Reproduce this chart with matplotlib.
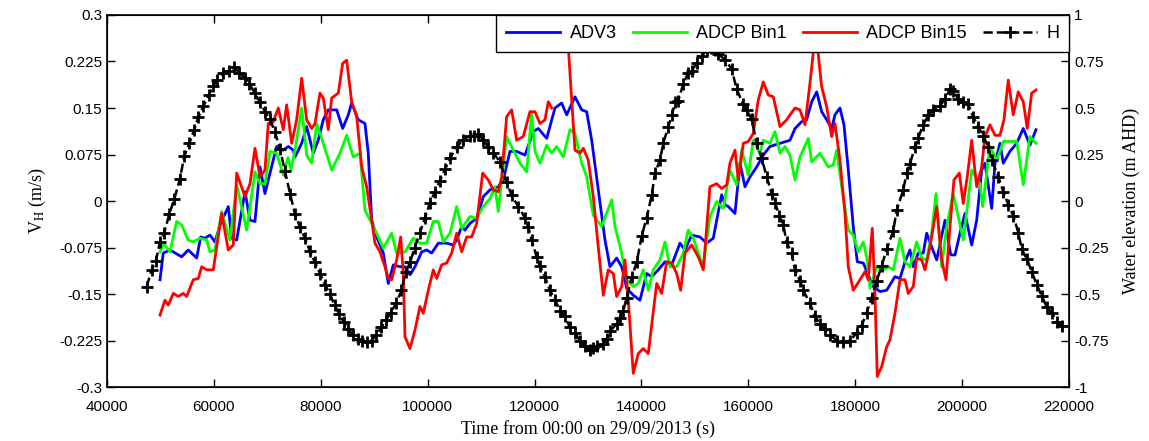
import numpy as np
import matplotlib
matplotlib.use("Agg")
import matplotlib.pyplot as plt
from matplotlib.ticker import FuncFormatter

plt.rcParams['axes.unicode_minus'] = False
plt.rcParams['mathtext.fontset'] = 'stix'

# ADV3 velocity (m/s)
t_adv3 = [49920, 50530, 51790, 53980, 55210, 56780, 57530, 58340, 59270, 60210,
          61140, 62700, 63330, 64270, 65820, 66760, 67690, 68630, 69560, 70500,
          71750, 72990, 73920, 74860, 75180, 76430, 77360, 78600, 79530, 80470,
          81410, 82980, 84100, 85150, 85780, 87020, 88270, 88890, 89530, 90460,
          91700, 92630, 93570, 94820, 95760, 96690, 97630, 98880, 99820, 100750,
          101990, 103560, 104790, 105430, 106370, 106980, 107920, 109170, 110410, 111660,
          113210, 114150, 115400, 116650, 118210, 119760, 120700, 122270, 123820, 125070,
          126010, 127560, 128820, 129750, 130690, 131920, 133180, 134110, 135360, 136300,
          137240, 138470, 139720, 140980, 141910, 143150, 144400, 145660, 147210, 148140,
          149400, 150950, 152200, 153440, 154080, 155010, 155630, 156250, 157500, 158430,
          159370, 160310, 161560, 162790, 164050, 165920, 167790, 168730, 169980, 170910,
          171850, 172790, 173720, 174660, 175590, 176210, 177140, 177890, 178700, 179630,
          180380, 181500, 182440, 183370, 184630, 185880, 187430, 188370, 189310, 190240,
          190860, 191790, 192730, 193370, 194300, 195240, 196790, 197860, 198660, 199600,
          200530, 201790, 202720, 203660, 204270, 205530, 206150, 207080, 207700, 208950,
          210200, 211440, 212690, 213820]
v_adv3 = [-0.127, -0.084, -0.079, -0.090, -0.079, -0.092, -0.058, -0.060, -0.055, -0.066,
          -0.039, -0.009, -0.060, -0.063, 0.015, -0.031, -0.033, 0.055, 0.012, 0.045,
          0.088, 0.082, 0.088, 0.082, 0.071, 0.093, 0.120, 0.077, 0.098, 0.131,
          0.147, 0.147, 0.117, 0.139, 0.158, 0.131, 0.125, 0.077, -0.031, -0.058,
          -0.084, -0.133, -0.103, -0.106, -0.106, -0.119, -0.106, -0.082, -0.079, -0.084,
          -0.068, -0.068, -0.071, -0.063, -0.041, -0.047, -0.036, -0.028, 0.007, 0.018,
          0.023, 0.034, 0.080, 0.080, 0.074, 0.112, 0.117, 0.101, 0.150, 0.158,
          0.139, 0.168, 0.147, 0.144, 0.098, 0.018, -0.063, -0.106, -0.092, -0.106,
          -0.141, -0.152, -0.160, -0.117, -0.122, -0.111, -0.098, -0.103, -0.068, -0.079,
          -0.055, -0.058, -0.068, -0.060, -0.031, 0.010, -0.006, -0.009, -0.020, 0.061,
          0.023, 0.039, 0.055, 0.074, 0.088, 0.093, 0.098, 0.117, 0.128, 0.131,
          0.160, 0.176, 0.144, 0.131, 0.117, 0.139, 0.150, 0.123, 0.050, -0.041,
          -0.098, -0.100, -0.119, -0.138, -0.146, -0.144, -0.122, -0.125, -0.098, -0.079,
          -0.106, -0.084, -0.084, -0.052, -0.074, -0.095, -0.031, -0.087, -0.087, -0.052,
          -0.020, -0.071, -0.031, 0.050, 0.061, -0.012, 0.061, 0.093, 0.061, 0.080,
          0.093, 0.117, 0.090, 0.115]

# ADCP Bin1 velocity (m/s)
t_bin1 = [49920, 50530, 51790, 53040, 53980, 55210, 56150, 57400, 58650, 59270,
          60210, 61460, 63010, 64270, 66140, 67690, 68630, 69560, 70500, 71750,
          72990, 73860, 74420, 75180, 76430, 77360, 78300, 79240, 80470, 82040,
          83590, 84850, 86080, 87340, 88270, 89530, 90760, 91700, 93270, 94200,
          95760, 97310, 98560, 99820, 101050, 101990, 102920, 104180, 105430, 106370,
          107920, 109170, 110410, 111660, 112600, 113210, 114780, 116020, 117270, 118530,
          119460, 120080, 121010, 122270, 123200, 124140, 125370, 126630, 127560, 128820,
          129750, 130990, 132560, 134430, 135050, 136300, 137240, 138470, 139410, 140340,
          141280, 142210, 143470, 144400, 145340, 146590, 147830, 148760, 149700, 150630,
          151570, 152820, 154080, 155310, 156560, 157820, 158750, 159990, 160920, 162180,
          162790, 164050, 164980, 165920, 166850, 167790, 168730, 169660, 171210, 171850,
          173400, 174960, 175890, 176530, 177460, 178700, 179630, 180570, 181500, 182140,
          182760, 184010, 185250, 186180, 187120, 188370, 189310, 190240, 191490, 192430,
          193370, 194300, 195110, 196170, 197110, 198340, 200210, 201790, 203340, 203840,
          205210, 206460, 207700, 210200, 211440, 212690, 213820]
v_bin1 = [-0.082, -0.068, -0.082, -0.033, -0.039, -0.063, -0.066, -0.060, -0.063, -0.082,
          -0.079, -0.017, -0.063, 0.026, -0.047, 0.047, 0.028, 0.028, 0.080, 0.077,
          0.042, 0.070, 0.050, 0.082, 0.150, 0.074, 0.061, 0.125, 0.093, 0.050,
          0.077, 0.106, 0.071, 0.077, -0.015, -0.036, -0.058, -0.076, -0.052, -0.084,
          -0.082, -0.060, -0.068, -0.068, -0.033, -0.033, -0.066, -0.052, -0.009, -0.044,
          -0.025, -0.028, -0.009, 0.004, 0.023, -0.017, 0.104, 0.082, 0.061, 0.047,
          0.142, 0.080, 0.061, 0.090, 0.077, 0.088, 0.071, 0.115, 0.109, 0.061,
          0.039, -0.023, -0.041, 0.002, -0.041, -0.084, -0.127, -0.138, -0.133, -0.111,
          -0.144, -0.111, -0.095, -0.066, -0.106, -0.106, -0.084, -0.047, -0.060, -0.084,
          -0.106, -0.025, -0.001, -0.012, 0.050, 0.026, 0.082, 0.042, 0.098, 0.077,
          0.098, 0.093, 0.112, 0.077, 0.088, 0.074, 0.034, 0.071, 0.101, 0.063,
          0.077, 0.055, 0.058, 0.082, 0.023, -0.047, -0.055, -0.082, -0.066, -0.090,
          -0.141, -0.106, -0.111, -0.106, -0.111, -0.060, -0.098, -0.106, -0.066, -0.092,
          -0.095, -0.052, 0.012, -0.106, -0.041, 0.012, -0.063, 0.050, 0.028, -0.009,
          0.088, 0.066, 0.096, 0.096, 0.026, 0.104, 0.093]

# ADCP Bin15 velocity (m/s), gap where the record drops out
t_bin15 = [49920, 50850, 51470, 52410, 53340, 54280, 54910, 56150, 57080, 57720,
           58650, 59890, 61460, 62700, 63630, 64270, 65820, 66760, 67690, 68630,
           69560, 70180, 71120, 72050, 72990, 73620, 74560, 75490, 76430, 77360,
           78300, 78920, 79850, 80470, 81410, 82040, 83280, 84100, 84850, 85780,
           86720, 87660, 88590, 89530, 90140, 91080, 92010, 92630, 93270, 94200,
           94950, 95440, 95760, 96690, 97630, 98560, 99180, 100120, 101050, 101690,
           102620, 103560, 104490, 105430, 106370, 107300, 108240, 109170, 110290, 111340,
           112280, 113210, 113850, 114780, 115720, 116650, 117890, 119140, 120080, 121010,
           121950, 122570, 123200, 124400, 125700, 127560, 128500, 129120, 130050, 130990,
           131920, 132860, 133790, 134730, 135360, 136300, 136920, 137540, 138470, 139410,
           140340, 141280, 142850, 143780, 144720, 145660, 146590, 147340, 148140, 149400,
           150630, 151570, 152820, 154080, 155010, 155950, 156560, 157500, 158120, 159050,
           159990, 160920, 161860, 162790, 163730, 164670, 165920, 167170, 168730, 169660,
           170600, 171530, 172600, 173720, 174660, 175590, 176210, 177140, 178080, 178700,
           179630, 180890, 181820, 182440, 183190, 183690, 184120, 184950, 185880, 186500,
           187430, 188370, 189310, 189920, 190860, 191490, 192430, 193050, 193980, 195240,
           196170, 196980, 197730, 198470, 199470, 200210, 200960, 201790, 202720, 203660,
           204270, 205210, 206150, 207080, 207830, 208630, 209570, 210500, 211440, 212190,
           213010, 213820]
v_bin15 = [-0.184, -0.160, -0.168, -0.149, -0.154, -0.149, -0.154, -0.127, -0.125, -0.106,
           -0.111, -0.111, -0.020, -0.079, -0.071, 0.045, 0.007, 0.028, 0.085, 0.039,
           0.050, 0.125, 0.128, 0.150, 0.115, 0.155, 0.093, 0.131, 0.198, 0.131,
           0.117, 0.125, 0.174, 0.166, 0.115, 0.166, 0.174, 0.222, 0.227, 0.160,
           0.136, 0.055, 0.023, -0.031, -0.068, -0.082, -0.106, -0.125, -0.127, -0.095,
           -0.058, -0.117, -0.219, -0.238, -0.208, -0.170, -0.181, -0.144, -0.111, -0.125,
           -0.103, -0.100, -0.084, -0.052, -0.082, -0.058, -0.058, -0.036, 0.045, 0.034,
           0.018, 0.015, 0.039, 0.136, 0.147, 0.098, 0.104, 0.144, 0.144, 0.125,
           0.131, 0.160, 0.150, np.nan, 0.330, 0.082, 0.077, 0.085, 0.066, 0.007,
           -0.074, -0.152, -0.111, -0.117, -0.154, -0.138, -0.095, -0.160, -0.278, -0.246,
           -0.238, -0.246, -0.133, -0.149, -0.098, -0.100, -0.117, -0.144, -0.084, -0.071,
           -0.090, -0.111, 0.023, 0.028, 0.020, 0.026, 0.061, 0.082, 0.034, 0.093,
           0.096, 0.109, 0.163, 0.192, 0.171, 0.168, 0.120, 0.131, 0.150, 0.147,
           0.123, 0.190, 0.275, 0.184, 0.152, 0.104, 0.125, 0.066, -0.020, -0.106,
           -0.144, -0.127, -0.114, -0.127, -0.044, -0.149, -0.283, -0.267, -0.235, -0.224,
           -0.181, -0.127, -0.127, -0.149, -0.138, -0.092, -0.095, -0.111, -0.074, -0.009,
           -0.095, -0.127, -0.041, 0.034, 0.045, -0.004, 0.039, 0.098, 0.023, 0.055,
           0.104, 0.123, 0.106, 0.106, 0.131, 0.195, 0.139, 0.176, 0.160, 0.117,
           0.174, 0.179]

# water elevation H (m AHD)
t_h = [47430, 48360, 49170, 49920, 50720, 51660, 52590, 53660, 54460, 55400,
       56280, 57080, 58020, 59080, 59890, 60640, 61760, 62830, 63760, 64750,
       65820, 66620, 67690, 68630, 69560, 70500, 71430, 72370, 73300, 74240,
       75180, 76110, 77050, 77980, 78920, 79850, 80800, 81700, 82600, 83500,
       84300, 85150, 86000, 86900, 87800, 88600, 89500, 90400, 91300, 92200,
       93100, 94100, 95100, 95900, 96700, 97600, 98560, 99500, 100430, 101370,
       102300, 103240, 104180, 105430, 106660, 107910, 108700, 109460, 110400, 111330,
       112270, 113530, 114780, 115720, 116950, 118210, 118820, 119460, 120390, 121010,
       121950, 122890, 123820, 124760, 125690, 126630, 127560, 128500, 129440, 130370,
       131000, 131620, 132860, 133500, 134110, 135360, 135900, 136600, 137230, 138170,
       139100, 140040, 140970, 141910, 142530, 143470, 144080, 145020, 145700, 146270,
       146890, 147830, 148760, 149400, 150330, 151270, 152200, 153100, 153800, 154380,
       155630, 156880, 157820, 159050, 159690, 160620, 161560, 162490, 163430, 164370,
       165000, 165800, 166540, 167160, 168100, 168730, 169660, 170280, 171530, 172470,
       173400, 174340, 175270, 176520, 177770, 179010, 180270, 181200, 182140, 183070,
       184010, 184940, 185880, 187120, 187740, 188990, 189600, 190240, 191170, 191790,
       192730, 193670, 194600, 195850, 196790, 197730, 198350, 199280, 200220, 201150,
       202090, 203030, 203960, 204900, 205530, 206770, 207710, 208640, 209580, 210510,
       211150, 212090, 213020, 213960, 214900, 215830, 216770, 217700, 218640]
h_val = [-0.46, -0.37, -0.32, -0.22, -0.17, -0.07, 0.01, 0.12, 0.24, 0.31,
         0.38, 0.45, 0.51, 0.57, 0.62, 0.65, 0.69, 0.70, 0.72, 0.69,
         0.66, 0.63, 0.58, 0.53, 0.48, 0.44, 0.37, 0.28, 0.16, 0.04,
         -0.07, -0.14, -0.20, -0.27, -0.33, -0.39, -0.45, -0.50, -0.56, -0.61,
         -0.65, -0.69, -0.72, -0.74, -0.75, -0.76, -0.75, -0.72, -0.68, -0.64,
         -0.60, -0.55, -0.48, -0.38, -0.33, -0.25, -0.17, -0.09, -0.01, 0.05,
         0.11, 0.17, 0.23, 0.29, 0.33, 0.35, 0.35, 0.36, 0.33, 0.29,
         0.26, 0.21, 0.10, 0.03, -0.03, -0.09, -0.14, -0.21, -0.30, -0.35,
         -0.41, -0.48, -0.53, -0.59, -0.62, -0.68, -0.71, -0.75, -0.78, -0.80,
         -0.79, -0.78, -0.77, -0.74, -0.70, -0.66, -0.63, -0.59, -0.52, -0.41,
         -0.33, -0.19, -0.09, 0.03, 0.15, 0.22, 0.31, 0.40, 0.46, 0.53,
         0.54, 0.63, 0.69, 0.70, 0.74, 0.78, 0.81, 0.82, 0.81, 0.79,
         0.76, 0.71, 0.60, 0.52, 0.49, 0.44, 0.31, 0.23, 0.13, 0.04,
         -0.01, -0.08, -0.13, -0.22, -0.28, -0.37, -0.43, -0.48, -0.55, -0.62,
         -0.66, -0.69, -0.72, -0.75, -0.76, -0.75, -0.71, -0.67, -0.60, -0.52,
         -0.43, -0.35, -0.26, -0.16, -0.05, 0.06, 0.15, 0.20, 0.29, 0.34,
         0.41, 0.46, 0.49, 0.51, 0.55, 0.60, 0.59, 0.55, 0.53, 0.52,
         0.45, 0.40, 0.35, 0.29, 0.22, 0.13, 0.05, -0.02, -0.08, -0.17,
         -0.26, -0.31, -0.38, -0.45, -0.51, -0.57, -0.60, -0.65, -0.67]

x_ticks = np.arange(40000, 220001, 20000)
v_ticks = np.arange(-0.3, 0.3001, 0.075)
h_ticks = np.arange(-1, 1.001, 0.25)

tick_font = {'family': 'Liberation Sans', 'size': 11}
label_font = {'family': 'Liberation Serif', 'size': 13}

fig = plt.figure(figsize=(11.49, 4.41), dpi=100)
ax1 = fig.add_axes([0.0931, 0.1224, 0.8373, 0.8436])
ax2 = ax1.twinx()

l1, = ax1.plot(t_adv3, v_adv3, color='#0000ff', lw=2, label='ADV3')
l2, = ax1.plot(t_bin1, v_bin1, color='#00ff00', lw=2, label='ADCP Bin1')
l3, = ax1.plot(t_bin15, v_bin15, color='#ff0000', lw=2, label='ADCP Bin15')
l4, = ax2.plot(t_h, h_val, color='k', lw=1.8, ls='--', marker='+',
               markersize=9, markeredgewidth=2, label='H')

ax1.set_xlim(40000, 220000)
ax1.set_ylim(-0.3, 0.3)
ax2.set_ylim(-1, 1)
ax1.set_xticks(x_ticks)
ax1.set_yticks(v_ticks)
ax2.set_yticks(h_ticks)
fmt = FuncFormatter(lambda v, p: '%g' % round(v, 4))
ax1.xaxis.set_major_formatter(FuncFormatter(lambda v, p: '%d' % v))
ax1.yaxis.set_major_formatter(fmt)
ax2.yaxis.set_major_formatter(fmt)

ax1.tick_params(direction='in', length=6, top=True, right=False, width=1)
ax1.tick_params(axis='x', pad=9)
ax2.tick_params(direction='in', length=6, width=1)
for lab in ax1.get_xticklabels() + ax1.get_yticklabels() + ax2.get_yticklabels():
    lab.set_fontfamily(tick_font['family'])
    lab.set_fontsize(tick_font['size'])
for sp in ax2.spines.values():
    sp.set_linewidth(1.2)

ax1.set_xlabel('Time from 00:00 on 29/09/2013 (s)', fontdict=label_font, labelpad=5)
ax1.set_ylabel(r'V$_{\rm H}$ (m/s)', fontdict=label_font, labelpad=8)
ax2.set_ylabel('Water elevation (m AHD)', fontdict=label_font, labelpad=10)

leg = ax2.legend(handles=[l1, l2, l3, l4], loc='upper right', ncol=4,
                 bbox_to_anchor=(1, 1), borderaxespad=0, fancybox=False,
                 framealpha=1, edgecolor='k', handlelength=3.0,
                 columnspacing=0.9, handletextpad=0.5, borderpad=0.55,
                 prop={'family': 'Liberation Sans', 'size': 13})
leg.get_frame().set_linewidth(1.0)
leg.set_zorder(10)

fig.savefig('out.png', dpi=100)
